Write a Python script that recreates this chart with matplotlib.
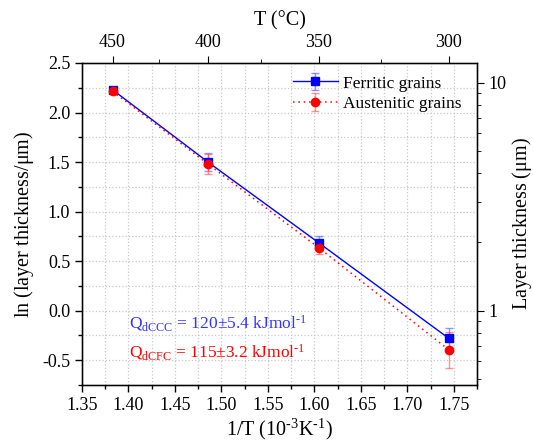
import numpy as np
import matplotlib
matplotlib.use("Agg")
import matplotlib.pyplot as plt
from matplotlib.ticker import MultipleLocator, LogLocator, NullFormatter, FixedLocator

plt.rcParams['font.family'] = ['Liberation Serif', 'DejaVu Serif']
plt.rcParams['mathtext.fontset'] = 'custom'
plt.rcParams['mathtext.rm'] = 'Liberation Serif'
plt.rcParams['mathtext.it'] = 'Liberation Serif:italic'
plt.rcParams['axes.unicode_minus'] = False

# Data
temps_C = [450, 400, 350, 300]
inv_T = [1000.0 / (t + 273.15) for t in temps_C]
ferritic = [2.23, 1.50, 0.685, -0.28]
ferritic_err = [0.02, 0.09, 0.07, 0.11]
austenitic = [2.215, 1.48, 0.635, -0.395]
austenitic_err = [0.02, 0.10, 0.06, 0.18]
top_ticks_C = [450, 400, 350, 300]
top_minor_C = [425, 375, 325]

fig = plt.figure(figsize=(5.33, 4.48), dpi=100)
ax = fig.add_axes([0.1538, 0.1406, 0.895 - 0.1538, 0.8594 - 0.1406])

blue = '#0000FF'
red = '#FF0000'

ax.errorbar(inv_T, ferritic, yerr=ferritic_err, color=blue, marker='s', ms=6,
            lw=1.0, ls='-', ecolor=(0.3, 0.3, 1.0, 0.6), elinewidth=1.0, capsize=3,
            label='Ferritic grains', zorder=3)
ax.errorbar(inv_T, austenitic, yerr=austenitic_err, color=red, marker='o', ms=6,
            lw=1.1, ls=(0, (1, 2.5)), ecolor=(1.0, 0.3, 0.3, 0.6), elinewidth=1.0, capsize=3,
            label='Austenitic grains', zorder=3)

ax.set_xlim(1.35, 1.775)
ax.set_ylim(-0.75, 2.5)
ax.xaxis.set_major_locator(MultipleLocator(0.05))
ax.xaxis.set_minor_locator(MultipleLocator(0.025))
ax.yaxis.set_major_locator(MultipleLocator(0.5))
ax.yaxis.set_minor_locator(MultipleLocator(0.25))
ax.xaxis.set_major_formatter(matplotlib.ticker.FormatStrFormatter('%.2f'))
ax.yaxis.set_major_formatter(matplotlib.ticker.FormatStrFormatter('%.1f'))
ax.grid(True, which='both', ls=':', color='#C8C8C8', lw=0.9)
ax.set_axisbelow(True)
ax.tick_params(which='both', direction='out', labelsize=13, width=1.0)
ax.tick_params(which='major', length=5)
ax.tick_params(which='minor', length=3)
for s in ax.spines.values():
    s.set_linewidth(1.0)

ax.set_xlabel('1/T (10$^{\\rm \u2010 3}$K$^{\\rm \u2010 1}$)', fontsize=14.5, labelpad=2)
ax.set_ylabel(r'ln (layer thickness/$\rm \mu$m)', fontsize=14.5, labelpad=4)

leg = ax.legend(loc='upper right', bbox_to_anchor=(1.0, 1.01), frameon=False,
                fontsize=12.5, handlelength=2.6, handletextpad=0.3, labelspacing=0.25)

ax.text(0.12, 0.175, 'Q$_{\\rm dCCC}$ = 120±5.4 kJmol$^{\\rm \u2010 1}$', color='#3333FF',
        fontsize=12.5, transform=ax.transAxes)
ax.text(0.12, 0.085, 'Q$_{\\rm dCFC}$ = 115±3.2 kJmol$^{\\rm \u2010 1}$', color=red,
        fontsize=12.5, transform=ax.transAxes)

# Top axis: temperature in C
axt = ax.twiny()
axt.set_xlim(ax.get_xlim())
axt.xaxis.set_major_locator(FixedLocator([1000.0 / (t + 273.15) for t in top_ticks_C]))
axt.xaxis.set_minor_locator(FixedLocator([1000.0 / (t + 273.15) for t in top_minor_C]))
axt.set_xticklabels([str(t) for t in top_ticks_C])
axt.tick_params(which='both', direction='out', labelsize=13)
axt.tick_params(which='major', length=5)
axt.tick_params(which='minor', length=3)
axt.set_xlabel('T (°C)', fontsize=14.5, labelpad=6)

# Right axis: layer thickness (log)
axr = ax.twinx()
axr.set_yscale('log')
axr.set_ylim(np.exp(-0.75), np.exp(2.5))
axr.yaxis.set_major_locator(FixedLocator([1, 10]))
axr.yaxis.set_major_formatter(matplotlib.ticker.FixedFormatter(['1', '10']))
axr.yaxis.set_minor_locator(LogLocator(base=10, subs=np.arange(2, 10) * 1.0))
axr.yaxis.set_minor_formatter(NullFormatter())
axr.tick_params(which='both', direction='out', labelsize=13)
axr.tick_params(which='major', length=5)
axr.tick_params(which='minor', length=3)
axr.set_ylabel(r'Layer thickness ($\rm \mu$m)', fontsize=14.5, labelpad=2)

fig.savefig('out.png', dpi=100)
